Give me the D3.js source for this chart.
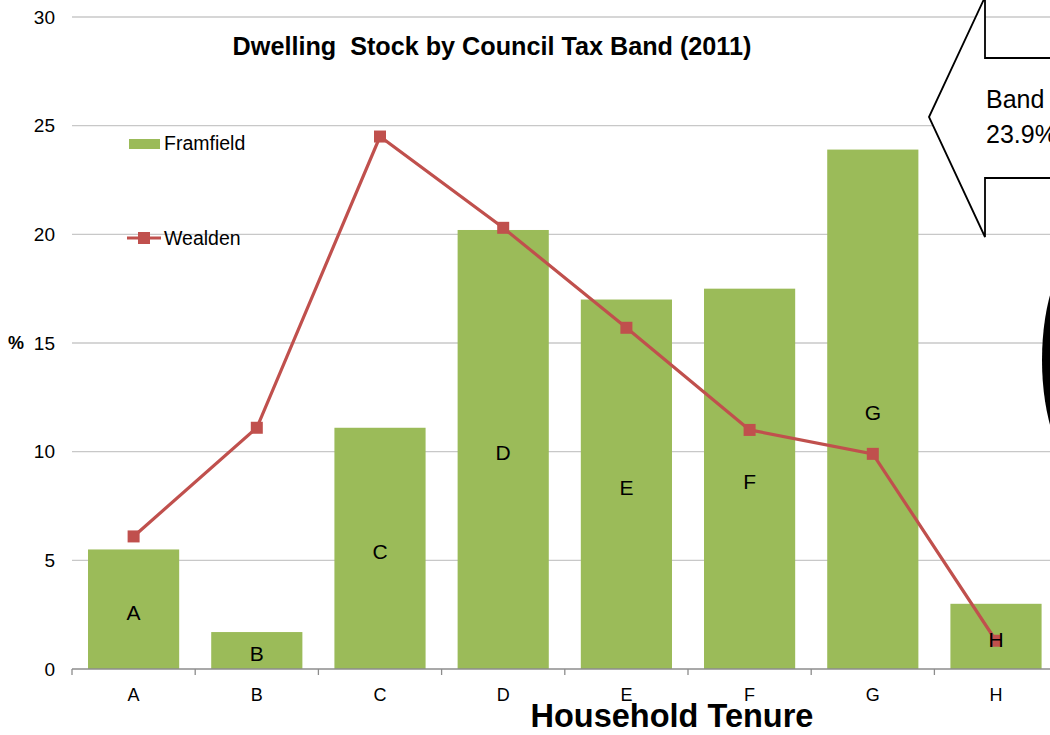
<!DOCTYPE html>
<html>
<head>
<meta charset="utf-8">
<script src="https://cdn.jsdelivr.net/npm/d3@7"></script>
<style>
  html, body { margin: 0; padding: 0; background: #fff; }
  svg { display: block; font-family: Arial, "Liberation Sans", sans-serif; }
</style>
</head>
<body>
<svg id="chart" width="1050" height="735"></svg>
<script>
const categories = ["A", "B", "C", "D", "E", "F", "G", "H"];
const framfield = [5.5, 1.7, 11.1, 20.2, 17.0, 17.5, 23.9, 3.0];
const wealden = [6.1, 11.1, 24.5, 20.3, 15.7, 11.0, 9.9, 1.3];
const yTicks = [0, 5, 10, 15, 20, 25, 30];
const titleText = "Dwelling  Stock by Council Tax Band (2011)";
const xTitle = "Household Tenure";
const yTitle = "%";
const seriesNames = ["Framfield", "Wealden"];
const calloutLines = ["Band G", "23.9%"];

const svg = d3.select("#chart");
const W = 1050, H = 735;
const left = 72, step = 123.2;
const x = d3.scaleBand().domain(categories).range([left, left + step * categories.length])
  .paddingInner(0.26).paddingOuter(0.13);
const y = d3.scaleLinear().domain([0, 30]).range([669, 17]);

const green = "#9BBB59", red = "#C0504D";

// gridlines
svg.append("g").selectAll("line").data(yTicks.filter(d => d > 0)).join("line")
  .attr("x1", left).attr("x2", W).attr("y1", d => y(d)).attr("y2", d => y(d))
  .attr("stroke", "#C8C8C8").attr("stroke-width", 1.3);

// y tick labels
svg.append("g").selectAll("text").data(yTicks).join("text")
  .attr("x", 55).attr("y", d => y(d)).attr("dy", "0.35em")
  .attr("text-anchor", "end").attr("font-size", 19).attr("fill", "#000")
  .text(d => d);

// y title
svg.append("text").attr("x", 16).attr("y", y(15)).attr("dy", "0.35em")
  .attr("text-anchor", "middle").attr("font-size", 18).attr("font-weight", "bold").text(yTitle);

// bars
svg.append("g").selectAll("rect").data(categories).join("rect")
  .attr("x", d => x(d)).attr("width", x.bandwidth())
  .attr("y", (d, i) => y(framfield[i])).attr("height", (d, i) => y(0) - y(framfield[i]))
  .attr("fill", green);

// x axis
const xAxisG = svg.append("g");
xAxisG.append("line").attr("x1", left).attr("x2", W).attr("y1", y(0)).attr("y2", y(0))
  .attr("stroke", "#8C8C8C").attr("stroke-width", 1.5);
const bounds = d3.range(categories.length + 1).map(i => left + i * x.step());
xAxisG.selectAll("line.tick").data(bounds).join("line").attr("class", "tick")
  .attr("x1", d => d).attr("x2", d => d).attr("y1", y(0)).attr("y2", y(0) + 6)
  .attr("stroke", "#8C8C8C").attr("stroke-width", 1.3);
xAxisG.selectAll("text").data(categories).join("text")
  .attr("x", d => x(d) + x.bandwidth() / 2).attr("y", 695).attr("dy", "0.35em")
  .attr("text-anchor", "middle").attr("font-size", 18).text(d => d);

// Wealden line
const line = d3.line().x((d, i) => x(categories[i]) + x.bandwidth() / 2).y(d => y(d));
svg.append("path").datum(wealden).attr("d", line)
  .attr("fill", "none").attr("stroke", red).attr("stroke-width", 3.2);
svg.append("g").selectAll("rect").data(wealden).join("rect")
  .attr("x", (d, i) => x(categories[i]) + x.bandwidth() / 2 - 6)
  .attr("y", d => y(d) - 6).attr("width", 12).attr("height", 12).attr("fill", red);

// bar labels (category names centred in bars)
svg.append("g").selectAll("text").data(categories).join("text")
  .attr("x", d => x(d) + x.bandwidth() / 2)
  .attr("y", (d, i) => y(framfield[i] / 2) + 3).attr("dy", "0.35em")
  .attr("text-anchor", "middle").attr("font-size", 21).text(d => d);

// title
svg.append("text").attr("x", 492).attr("y", 46).attr("dy", "0.35em")
  .attr("text-anchor", "middle").attr("font-size", 25.2).attr("font-weight", "bold")
  .style("white-space", "pre").attr("xml:space", "preserve").text(titleText);

// x title
svg.append("text").attr("x", 672).attr("y", 727)
  .attr("text-anchor", "middle").attr("font-size", 32.5).attr("font-weight", "bold").text(xTitle);

// legend
const lg = svg.append("g");
lg.append("rect").attr("x", 129).attr("y", 139).attr("width", 31).attr("height", 10).attr("fill", green);
lg.append("text").attr("x", 164).attr("y", 143).attr("dy", "0.35em").attr("font-size", 19.5).text(seriesNames[0]);
lg.append("line").attr("x1", 127).attr("x2", 161).attr("y1", 238).attr("y2", 238)
  .attr("stroke", red).attr("stroke-width", 3.2);
lg.append("rect").attr("x", 138).attr("y", 232).attr("width", 12).attr("height", 12).attr("fill", red);
lg.append("text").attr("x", 164).attr("y", 238).attr("dy", "0.35em").attr("font-size", 19.5).text(seriesNames[1]);

// callout arrow
const arrowPts = [[929, 117], [985, -3], [985, 58], [1060, 58], [1060, 178], [985, 178], [985, 237]];
svg.append("path").attr("d", "M" + arrowPts.map(p => p.join(",")).join("L") + "Z")
  .attr("fill", "#fff").attr("stroke", "#000").attr("stroke-width", 1.8).attr("stroke-linejoin", "miter");
svg.append("g").selectAll("text").data(calloutLines).join("text")
  .attr("x", 986).attr("y", (d, i) => 108 + i * 35).attr("font-size", 25).text(d => d);

// black ellipse at right edge
svg.append("ellipse").attr("cx", 1082).attr("cy", 360).attr("rx", 40).attr("ry", 108).attr("fill", "#000");
</script>
</body>
</html>
